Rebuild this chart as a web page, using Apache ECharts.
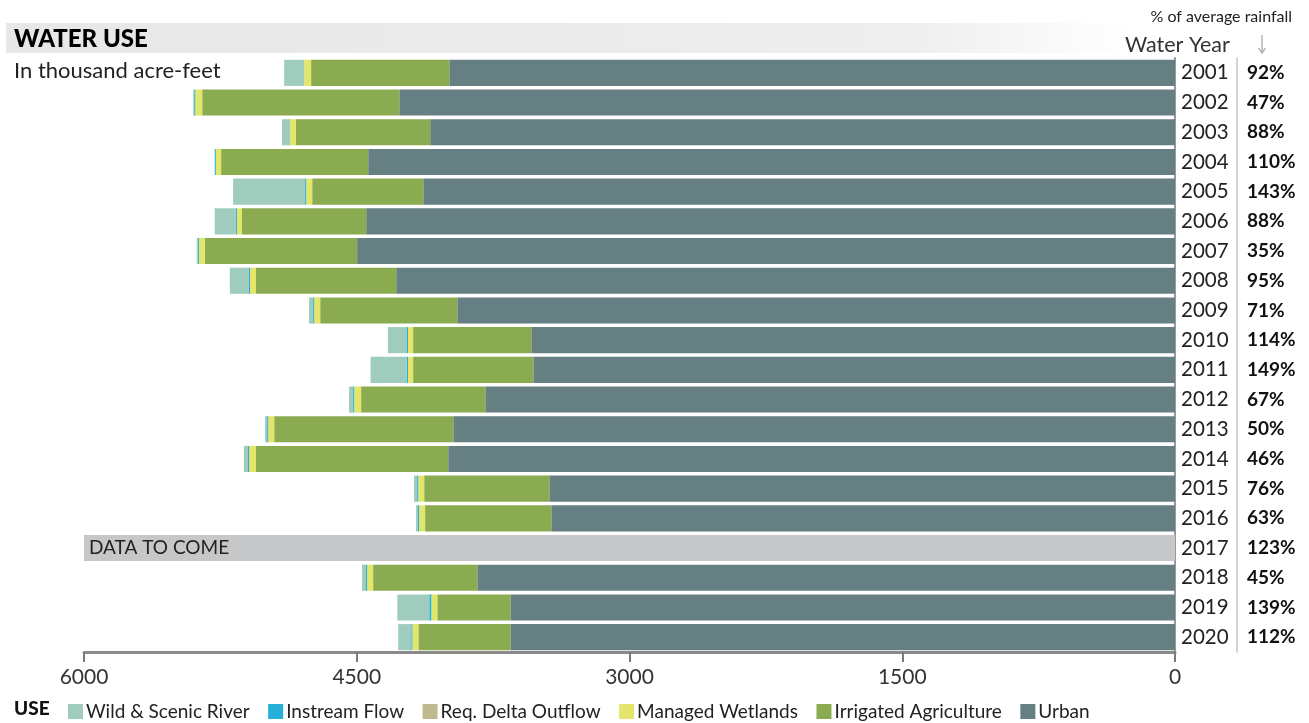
<!DOCTYPE html>
<html><head><meta charset="utf-8">
<script src="https://cdn.jsdelivr.net/npm/echarts@6/dist/echarts.min.js"></script>
<style>html,body{margin:0;padding:0;background:#fff}#c{width:1309px;height:723px}</style>
</head><body><div id="c"></div>
<script>
const years = ['2001','2002','2003','2004','2005','2006','2007','2008','2009','2010','2011','2012','2013','2014','2015','2016','2017','2018','2019','2020'];
const rainfall = [92,47,88,110,143,88,35,95,71,114,149,67,50,46,76,63,123,45,139,112];
const urban = [3991,4266,4096,4437,4134,4448,4498,4283,3947,3540,3529,3793,3969,3997,3441,3430,null,3837,3655,3655];
const irrigatedAgriculture = [760,1084,738,809,611,683,837,771,754,650,661,683,985,1057,688,694,null,573,402,506];
const managedWetlands = [38,38,33,29,33,28,33,33,33,28,28,38,33,38,33,33,null,33,33,33];
const reqDeltaOutflow = [0,0,0,0,0,0,0,0,0,0,0,0,0,0,0,0,null,0,0,0];
const instreamFlow = [0,6,0,6,6,6,6,6,6,6,8,6,6,6,6,6,null,6,11,6];
const wildScenicRiver = [110,5,44,0,396,116,6,105,22,105,198,22,11,22,17,11,null,22,176,72];
const dataToCome = [null,null,null,null,null,null,null,null,null,null,null,null,null,null,null,null,6000,null,null,null];
const xTicks = [0,1500,3000,4500,6000];

const FONT = 'Lato';
const colors = {
  'Wild & Scenic River':'#9fccbc',
  'Instream Flow':'#26afd8',
  'Req. Delta Outflow':'#bfb990',
  'Managed Wetlands':'#e3e66a',
  'Irrigated Agriculture':'#8aab50',
  'Urban':'#667f83'
};
const stackOrder = [
  ['Urban', urban],
  ['Irrigated Agriculture', irrigatedAgriculture],
  ['Managed Wetlands', managedWetlands],
  ['Req. Delta Outflow', reqDeltaOutflow],
  ['Instream Flow', instreamFlow],
  ['Wild & Scenic River', wildScenicRiver]
];
const series = stackOrder.map(([name, data]) => ({
  name, type:'bar', stack:'use', data, barCategoryGap:'12%',
  itemStyle:{color:colors[name]}, silent:true
}));
series.push({
  name:'DATA TO COME', type:'bar', stack:'use', data:dataToCome, barCategoryGap:'12%',
  itemStyle:{color:'#c6c7c9'}, silent:true,
  label:{show:true, position:'insideLeft', distance:5, formatter:'DATA TO COME',
    fontFamily:FONT, fontSize:19, color:'#222'}
});

const chart = echarts.init(document.getElementById('c'), null, {renderer:'canvas'});
chart.setOption({
  animation:false,
  color:Object.values(colors),
  grid:{left:84, right:134, top:58, bottom:71},
  xAxis:{
    type:'value', min:xTicks[0], max:xTicks[xTicks.length-1], interval:1500, inverse:true,
    axisLine:{show:true, lineStyle:{color:'#8a8a8a', width:3}},
    axisTick:{show:true, length:10, lineStyle:{color:'#7a7a7a', width:2}},
    splitLine:{show:false},
    axisLabel:{fontFamily:FONT, fontSize:21, color:'#333', margin:15, formatter:v => String(v)}
  },
  yAxis:[{
    type:'category', data:years, inverse:true, position:'right',
    axisLine:{show:true, lineStyle:{color:'#9a9a9a', width:2}},
    axisTick:{show:false},
    axisLabel:{fontFamily:FONT, fontSize:20.5, color:'#222', margin:6}
  },{
    type:'category', data:rainfall.map(v => v + '%'), inverse:true, position:'right', offset:62,
    axisLine:{show:true, lineStyle:{color:'#c4c4c4', width:1.5}},
    axisTick:{show:false},
    axisLabel:{fontFamily:FONT, fontSize:19, fontWeight:'bold', color:'#111', margin:10}
  }],
  legend:{
    data:['Wild & Scenic River','Instream Flow','Req. Delta Outflow','Managed Wetlands','Irrigated Agriculture','Urban'],
    left:63, top:697, icon:'rect', itemWidth:15, itemHeight:15, itemGap:18.5, selectedMode:false,
    textStyle:{fontFamily:FONT, fontSize:19, color:'#222', padding:[0,0,0,-2]}
  },
  graphic:[
    {type:'rect', left:6, top:23, shape:{width:1125, height:30}, silent:true,
      style:{fill:new echarts.graphic.LinearGradient(0,0,1,0,[{offset:0,color:'#e6e7e8'},{offset:0.8,color:'#eeeeef'},{offset:1,color:'#ffffff'}])}},
    {type:'text', left:14, top:27, silent:true,
      style:{text:'WATER USE', font:'900 24px Lato', fill:'#000'}},
    {type:'text', left:14, top:60, silent:true,
      style:{text:'In thousand acre-feet', font:'22px Lato', fill:'#222'}},
    {type:'text', right:17, top:9, silent:true,
      style:{text:'% of average rainfall', font:'16px Lato', fill:'#222'}},
    {type:'text', left:1125, top:34, silent:true,
      style:{text:'Water Year', font:'21.5px Lato', fill:'#333'}},
    {type:'polyline', silent:true, shape:{points:[[1262,35],[1262,53]]}, style:{stroke:'#aaa', lineWidth:1.3}},
    {type:'polyline', silent:true, shape:{points:[[1258.5,48],[1262,53],[1265.5,48]]}, style:{stroke:'#aaa', lineWidth:1.3, fill:null}},
    {type:'text', left:14, top:699, silent:true,
      style:{text:'USE', font:'900 19px Lato', fill:'#111'}}
  ],
  series
});
</script></body></html>
